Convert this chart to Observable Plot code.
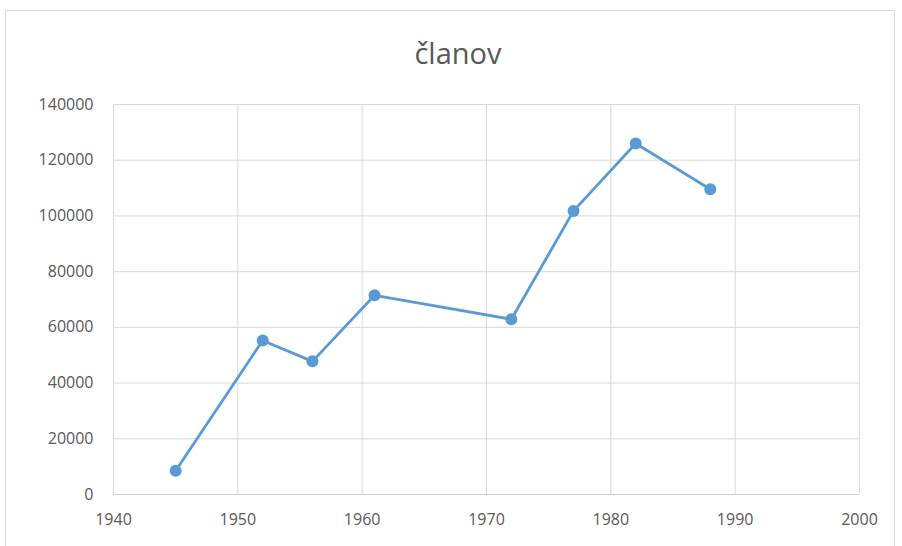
<!DOCTYPE html>
<html>
<head>
<meta charset="utf-8">
<script src="https://cdn.jsdelivr.net/npm/d3@7"></script>
<script src="https://cdn.jsdelivr.net/npm/@observablehq/plot@0.6"></script>
<style>
  html, body { margin: 0; padding: 0; background: #fff; }
  #wrap { position: relative; width: 902px; height: 546px; overflow: hidden; font-family: "Open Sans", "Liberation Sans", sans-serif; }
  #frame { position: absolute; left: 5px; top: 10px; width: 890px; height: 560px; border: 1px solid #d9d9d9; box-sizing: border-box; }
  #title { position: absolute; left: 7px; top: 38px; width: 902px; text-align: center; font-size: 29px; color: #595959; line-height: 1; }
  #chart { position: absolute; left: 0; top: 0; }
</style>
</head>
<body>
<div id="wrap">
  <div id="frame"></div>
  <div id="title">članov</div>
  <div id="chart"></div>
</div>
<script>
const years = [1945, 1952, 1956, 1961, 1972, 1977, 1982, 1988];
const members = [8500, 55300, 47800, 71500, 62900, 101800, 126000, 109600];
const xTicks = [1940, 1950, 1960, 1970, 1980, 1990, 2000];
const yTicks = [0, 20000, 40000, 60000, 80000, 100000, 120000, 140000];

const data = years.map((y, i) => ({year: y, value: members[i]}));

const chart = Plot.plot({
  width: 902,
  height: 546,
  marginLeft: 113,
  marginRight: 43,
  marginTop: 104,
  marginBottom: 52,
  style: {fontFamily: '"Open Sans", "Liberation Sans", sans-serif', fontSize: "16px", color: "#595959", background: "transparent"},
  x: {domain: [1940, 2000], ticks: xTicks, tickFormat: d3.format("d"), label: null},
  y: {domain: [0, 140000], ticks: yTicks, tickFormat: d3.format("d"), label: null},
  marks: [
    Plot.gridX(xTicks, {stroke: "#d9d9d9", strokeOpacity: 1, strokeWidth: 1}),
    Plot.gridY(yTicks, {stroke: "#d9d9d9", strokeOpacity: 1, strokeWidth: 1}),
    Plot.ruleY([0], {stroke: "#d0d0d0", strokeWidth: 1}),
    Plot.axisX({ticks: xTicks, tickFormat: d3.format("d"), tickSize: 0, tickPadding: 19, fill: "#595959", fontSize: 16, label: null}),
    Plot.axisY({ticks: yTicks, tickFormat: d3.format("d"), tickSize: 0, tickPadding: 20, fill: "#595959", fontSize: 16, label: null}),
    Plot.line(data, {x: "year", y: "value", stroke: "#5b9bd5", strokeWidth: 2.8}),
    Plot.dot(data, {x: "year", y: "value", fill: "#5b9bd5", r: 6})
  ]
});
document.getElementById("chart").appendChild(chart);
</script>
</body>
</html>
